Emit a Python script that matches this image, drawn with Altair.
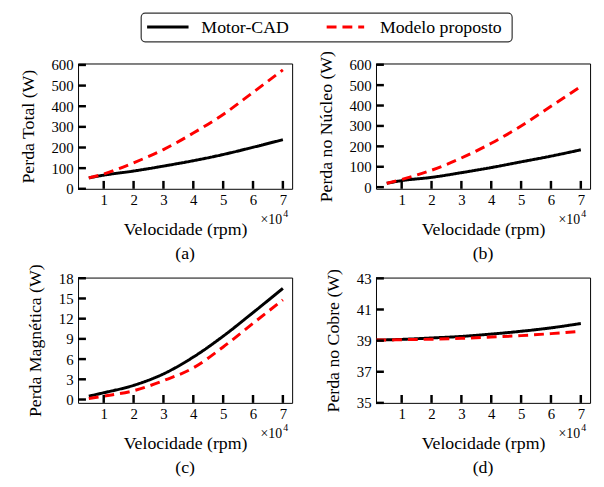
import altair as alt
import pandas as pd

# ---------------- data ----------------
series_names = ["Motor-CAD", "Modelo proposto"]
series_colors = ["#000000", "#ff0000"]
velocidade = [0.5, 1, 2, 3, 4, 5, 6, 7]          # x 10^4 rpm

total_motorcad = [53, 66, 86, 110, 136, 166, 201, 238]
total_modelo = [53, 72, 126, 190, 270, 360, 467, 576]

nucleo_motorcad = [19, 32, 48, 71, 96, 124, 152, 183]
nucleo_modelo = [19, 38, 83, 143, 215, 300, 396, 493]

magnetica_motorcad = [0.5, 1.0, 2.1, 3.8, 6.3, 9.4, 12.9, 16.5]
magnetica_modelo = [0.15, 0.5, 1.3, 2.8, 4.7, 7.8, 11.3, 14.8]

velocidade_cobre = [0.15, 0.5, 1, 2, 3, 4, 5, 6, 7]
cobre_motorcad = [39.04, 39.05, 39.08, 39.17, 39.27, 39.42, 39.6, 39.82, 40.1]
cobre_modelo = [39.04, 39.04, 39.06, 39.09, 39.15, 39.23, 39.32, 39.45, 39.6]

x_ticks = [1, 2, 3, 4, 5, 6, 7]
y_ticks_total = [0, 100, 200, 300, 400, 500, 600]
y_ticks_nucleo = [0, 100, 200, 300, 400, 500, 600]
y_ticks_magnetica = [0, 3, 6, 9, 12, 15, 18]
y_ticks_cobre = [35, 37, 39, 41, 43]

W, H = 217, 127
FONT = "'Liberation Serif', 'Times New Roman', Times, serif"


def long_df(xs, a, b):
    rows = []
    for x, v in zip(xs, a):
        rows.append({"x": x, "v": v, "serie": series_names[0]})
    for x, v in zip(xs, b):
        rows.append({"x": x, "v": v, "serie": series_names[1]})
    return pd.DataFrame(rows)


def legend_layers():
    one = pd.DataFrame({"a": [0]})
    box = alt.Chart(one).mark_rect(fill="white", stroke="#333333", strokeWidth=1.2, cornerRadius=4).encode(
        x=alt.value(64), x2=alt.value(440), y=alt.value(-51), y2=alt.value(-22))
    l1 = alt.Chart(one).mark_rule(color=series_colors[0], strokeWidth=3).encode(
        x=alt.value(70), x2=alt.value(112), y=alt.value(-37))
    l2 = alt.Chart(one).mark_rule(color=series_colors[1], strokeWidth=3, strokeDash=[10, 6]).encode(
        x=alt.value(252), x2=alt.value(290), y=alt.value(-37))
    t1 = alt.Chart(one).mark_text(text=series_names[0], font=FONT, fontSize=18, align="left",
                                  baseline="middle", color="black").encode(x=alt.value(125), y=alt.value(-36))
    t2 = alt.Chart(one).mark_text(text=series_names[1], font=FONT, fontSize=18, align="left",
                                  baseline="middle", color="black").encode(x=alt.value(306), y=alt.value(-36))
    return [box, l1, l2, t1, t2]


def panel(xs, a, b, ytitle, ydomain, yticks, tag, with_legend=False):
    df = long_df(xs, a, b)
    xscale = alt.Scale(domain=[0.14, 7.31], nice=False, zero=False)
    yscale = alt.Scale(domain=ydomain, nice=False, zero=False)
    xaxis = alt.Axis(values=x_ticks, title="Velocidade (rpm)", labelPadding=4,
                     titlePadding=13, format="d", labelOverlap=False,
                     labelFont=FONT, titleFont=FONT, labelFontSize=15, titleFontSize=18)
    yaxis = alt.Axis(values=yticks, title=ytitle, labelPadding=5, titlePadding=14,
                     format="d", labelOverlap=False,
                     labelFont=FONT, titleFont=FONT, labelFontSize=15, titleFontSize=18)
    lines = alt.Chart(df).mark_line(strokeWidth=3, clip=True, interpolate="monotone").encode(
        x=alt.X("x:Q", scale=xscale, axis=xaxis),
        y=alt.Y("v:Q", scale=yscale, axis=yaxis),
        color=alt.Color("serie:N", scale=alt.Scale(domain=series_names, range=series_colors), legend=None),
        strokeDash=alt.StrokeDash("serie:N", scale=alt.Scale(domain=series_names, range=[[1, 0], [10, 6]]),
                                  legend=None),
    )
    xt = alt.Chart(pd.DataFrame({"t": x_ticks})).mark_rule(color="black", strokeWidth=2.5).encode(
        x=alt.X("t:Q", scale=xscale, axis=xaxis), y=alt.value(H), y2=alt.value(H - 8))
    yt = alt.Chart(pd.DataFrame({"t": yticks})).mark_rule(color="black", strokeWidth=2.5).encode(
        y=alt.Y("t:Q", scale=yscale, axis=yaxis), x=alt.value(0), x2=alt.value(8))
    one = pd.DataFrame({"a": [0]})
    mult = alt.Chart(one).mark_text(text="×10", font=FONT, fontSize=14, align="left",
                                    baseline="alphabetic", color="black").encode(
        x=alt.value(W - 32), y=alt.value(H + 36))
    exp = alt.Chart(one).mark_text(text="4", font=FONT, fontSize=10, align="left",
                                   baseline="alphabetic", color="black").encode(
        x=alt.value(W - 9), y=alt.value(H + 29))
    layers = [lines, xt, yt, mult, exp]
    if with_legend:
        layers += legend_layers()
    return alt.layer(*layers).properties(
        width=W, height=H,
        title=alt.TitleParams(tag, orient="bottom", font=FONT, fontSize=18, fontWeight="normal",
                              color="black", offset=7))


pa = panel(velocidade, total_motorcad, total_modelo, "Perda Total (W)", [0, 607], y_ticks_total, "(a)",
           with_legend=True)
pb = panel(velocidade, nucleo_motorcad, nucleo_modelo, "Perda no Núcleo (W)", [-8, 606], y_ticks_nucleo, "(b)")
pc = panel(velocidade, magnetica_motorcad, magnetica_modelo, "Perda Magnética (W)", [-0.5, 18.1],
           y_ticks_magnetica, "(c)")
pd_ = panel(velocidade_cobre, cobre_motorcad, cobre_modelo, "Perda no Cobre (W)", [35, 43.05],
            y_ticks_cobre, "(d)")

chart = alt.concat(pa, pb, pc, pd_, columns=2, spacing={"row": 90, "column": 85}, bounds="flush").properties(
    padding={"left": 11, "top": 0, "right": 5, "bottom": 5}
).configure_view(stroke="black", strokeWidth=1).configure_axis(
    ticks=False, domain=False, grid=False, labelFont=FONT, labelFontSize=15, labelColor="black",
    titleFont=FONT, titleFontSize=18, titleFontWeight="normal", titleColor="black", labelOverlap=False,
).configure_text(font=FONT)

chart.save("out.html", embed_options={"renderer": "svg", "actions": False})
